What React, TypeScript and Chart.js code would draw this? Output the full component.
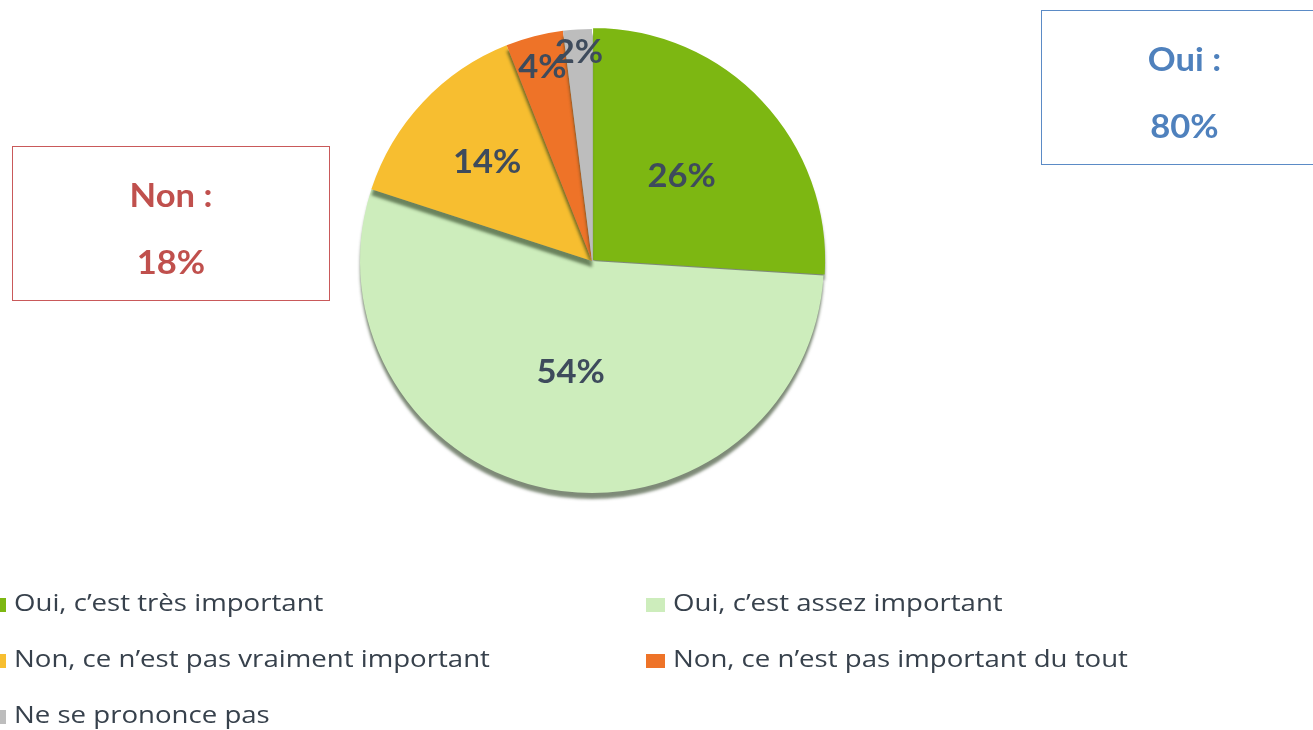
import React, { useEffect, useRef } from "react";
import { Chart, registerables } from "chart.js";

Chart.register(...registerables);

const categories: string[] = [
  "Oui, c’est très important",
  "Oui, c’est assez important",
  "Non, ce n’est pas vraiment important",
  "Non, ce n’est pas important du tout",
  "Ne se prononce pas",
];
const values: number[] = [26, 54, 14, 4, 2];
const colors: string[] = ["#7DB712", "#CDEDBC", "#F7BE30", "#EE7328", "#BDBDBD"];
const sliceOffsets: number[] = [6, 0, 0, 0, 0];
const labelRadiusFraction: number[] = [0.53, 0.49, 0.62, 0.86, 0.9];

const nonLabel = "Non :";
const nonValue = "18%";
const ouiLabel = "Oui :";
const ouiValue = "80%";

const legendOrder: number[] = [0, 1, 2, 3, 4];

const labelPlugin = {
  id: "sliceLabels",
  afterDatasetsDraw(chart: any) {
    const ctx = chart.ctx;
    const meta = chart.getDatasetMeta(0);
    ctx.save();
    ctx.font = "bold 32px Lato";
    ctx.fillStyle = "#3E4B5C";
    ctx.textAlign = "center";
    ctx.textBaseline = "middle";
    meta.data.forEach((arc: any, i: number) => {
      const p = arc.getProps(["x", "y", "startAngle", "endAngle", "outerRadius"], true);
      const mid = (p.startAngle + p.endAngle) / 2;
      const r = p.outerRadius * labelRadiusFraction[i];
      const x = p.x + Math.cos(mid) * r;
      const y = p.y + Math.sin(mid) * r;
      ctx.save();
      ctx.translate(x, y);
      ctx.scale(1.08, 1);
      ctx.fillText(values[i] + "%", 0, 0);
      ctx.restore();
    });
    ctx.restore();
  },
};

const shadowPlugin = {
  id: "pieShadow",
  beforeDatasetsDraw(chart: any) {
    const ctx = chart.ctx;
    ctx.save();
    ctx.shadowColor = "rgba(40,60,30,0.6)";
    ctx.shadowBlur = 3;
    ctx.shadowOffsetX = 0;
    ctx.shadowOffsetY = 6;
  },
  afterDatasetsDraw(chart: any) {
    chart.ctx.restore();
  },
};

function App() {
  const canvasRef = useRef<HTMLCanvasElement | null>(null);

  useEffect(() => {
    if (!canvasRef.current) return;
    const chart = new Chart(canvasRef.current, {
      type: "pie",
      data: {
        labels: categories,
        datasets: [
          {
            data: values,
            backgroundColor: colors,
            borderWidth: 0,
            offset: sliceOffsets,
          },
        ],
      },
      options: {
        animation: false,
        responsive: false,
        radius: 232,
        layout: { padding: { left: 300, right: 429, top: 20, bottom: 228 } },
        plugins: {
          legend: { display: false },
          tooltip: { enabled: false },
        },
      } as any,
      plugins: [shadowPlugin, labelPlugin],
    });
    return () => chart.destroy();
  }, []);

  const legendText: React.CSSProperties = {
    position: "absolute",
    fontFamily: "'Open Sans', sans-serif",
    fontSize: 24,
    color: "#37414C",
    whiteSpace: "nowrap",
    lineHeight: "28px",
    transform: "scaleX(1.15)",
    transformOrigin: "left center",
  };

  const legendPos = [
    { x: 14, y: 588 },
    { x: 673, y: 588 },
    { x: 14, y: 644 },
    { x: 673, y: 644 },
    { x: 14, y: 700 },
  ];

  const boxText: React.CSSProperties = {
    fontFamily: "Lato, sans-serif",
    fontWeight: "bold",
    fontSize: 32,
    textAlign: "center",
    position: "absolute",
    left: 0,
    right: 0,
    lineHeight: "36px",
    transform: "scaleX(1.08)",
  };

  return (
    <div style={{ position: "fixed", left: 0, top: 0, width: 1313, height: 730, background: "#fff", overflow: "hidden" }}>
      <canvas ref={canvasRef} width={1313} height={730} style={{ position: "absolute", left: 0, top: 0 }} />
      <div
        style={{
          position: "absolute",
          left: 12,
          top: 146,
          width: 316,
          height: 153,
          border: "1.5px solid #C9595A",
          color: "#C0504D",
        }}
      >
        <div style={{ ...boxText, top: 30 }}>{nonLabel}</div>
        <div style={{ ...boxText, top: 97 }}>{nonValue}</div>
      </div>
      <div
        style={{
          position: "absolute",
          left: 1041,
          top: 10,
          width: 285,
          height: 153,
          border: "1.5px solid #5B8BC6",
          color: "#4F81BD",
        }}
      >
        <div style={{ ...boxText, top: 30 }}>{ouiLabel}</div>
        <div style={{ ...boxText, top: 97 }}>{ouiValue}</div>
      </div>
      {legendOrder.map((idx, k) => (
        <React.Fragment key={idx}>
          <div
            style={{
              position: "absolute",
              left: legendPos[k].x - 27,
              top: legendPos[k].y + 10,
              width: 19,
              height: 14,
              background: colors[idx],
            }}
          />
          <div style={{ ...legendText, left: legendPos[k].x, top: legendPos[k].y }}>{categories[idx]}</div>
        </React.Fragment>
      ))}
    </div>
  );
}

export default App;
